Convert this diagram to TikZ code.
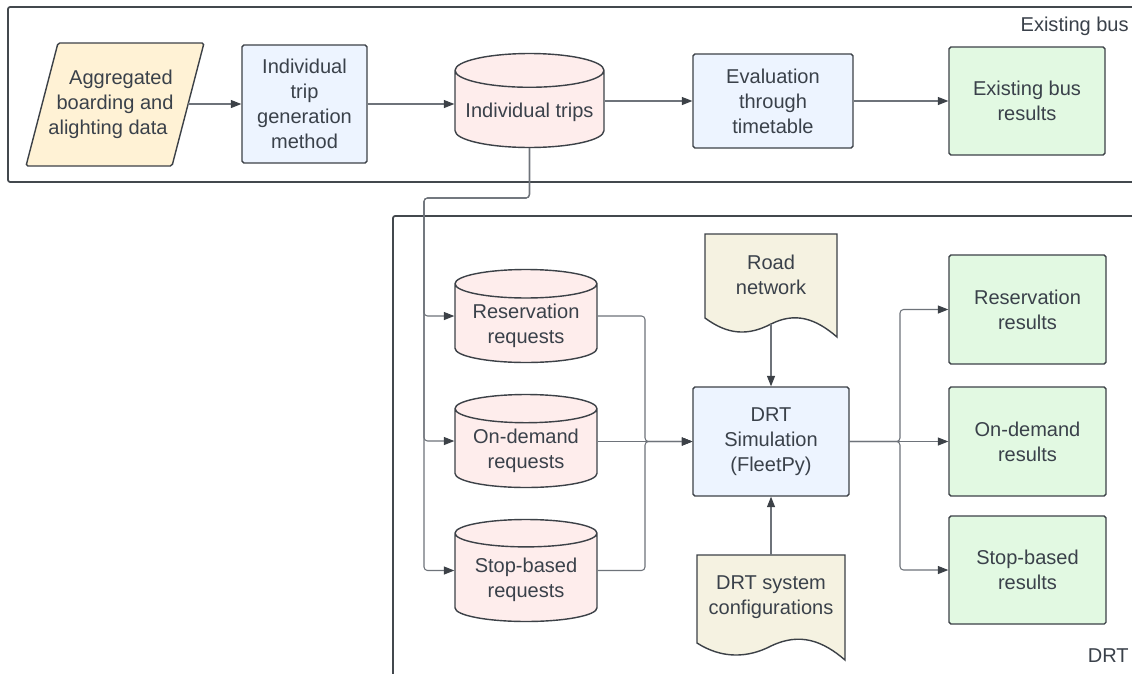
\documentclass[tikz,border=0pt]{standalone}
\usepackage{fontspec}
\setmainfont{Liberation Sans}
\usetikzlibrary{shapes.geometric,arrows.meta}

\definecolor{txt}{HTML}{3A414A}
\definecolor{brd}{HTML}{3C4147}
\definecolor{lnk}{HTML}{6E737A}
\definecolor{frm}{HTML}{43484D}
\definecolor{inputtan}{HTML}{FFF2D5}
\definecolor{procblue}{HTML}{EDF4FF}
\definecolor{drumpink}{HTML}{FEEDEC}
\definecolor{docbeige}{HTML}{F5F2E1}
\definecolor{resgreen}{HTML}{E2F9E2}

\tikzset{
  every node/.style={font=\fontsize{11.4}{14.2}\selectfont, text=txt},
  box/.style={draw=brd, line width=0.8pt, rounded corners=1pt, align=center, inner sep=2pt},
  procbox/.style={box, fill=procblue},
  resbox/.style={box, fill=resgreen},
  datadrum/.style={cylinder, shape border rotate=90, aspect=0.25, draw=brd, line width=0.8pt,
    fill=drumpink, align=center, inner sep=2pt, anchor=shape center},
  slantshape/.style={draw=brd, line width=0.8pt, fill=inputtan, rounded corners=1pt},
  doctext/.style={align=center, inner sep=0pt},
  docshape/.style={draw=brd, line width=0.8pt, fill=docbeige},
  link/.style={draw=lnk, line width=0.6pt, rounded corners=2pt,
    -{Triangle[length=6pt,width=4.6pt,color=brd]}},
  frame/.style={draw=frm, line width=1pt, rounded corners=1.2pt},
}

\begin{document}
\begin{tikzpicture}[x=0.02cm,y=-0.02cm]
    \clip (0,0) rectangle (1132,673);
    \fill[white] (0,0) rectangle (1132,673);

    % frames
    \draw[frame] (8,7) rectangle (1150,182);
    \draw[frame] (393,216) rectangle (1150,700);
    \node[anchor=east, inner sep=0pt] (buslbl) at (1129,26) {Existing bus};
    \node[anchor=east, inner sep=0pt] (drtlbl) at (1129,656) {DRT};

    % existing bus row
    \draw[slantshape] (58,43) -- (204,43) -- (172,166) -- (26,166) -- cycle;
    \node[doctext, minimum width=2.92cm, minimum height=2.46cm] (agg) at (115,104)
        {\hspace*{0.24cm}Aggregated\\boarding and\\alighting data\hspace*{0.28cm}};
    \node[procbox, minimum width=2.5cm, minimum height=2.36cm] (itg) at (304.5,104) {Individual\\trip\\generation\\method};
    \node[datadrum, minimum width=2.98cm, minimum height=1.88cm] (trips) at (529.5,100.5) {Individual trips};
    \node[procbox, minimum width=3.2cm, minimum height=1.88cm] (eval) at (773,101) {Evaluation\\through\\timetable};
    \node[resbox, minimum width=3.12cm, minimum height=2.16cm] (exres) at (1027,101) {Existing bus\\results};

    % request stores
    \node[datadrum, minimum width=2.84cm, minimum height=1.86cm] (resreq) at (526,316) {Reservation\\requests};
    \node[datadrum, minimum width=2.84cm, minimum height=1.86cm] (odreq) at (526,441) {On-demand\\requests};
    \node[datadrum, minimum width=2.84cm, minimum height=2.04cm] (sbreq) at (526,570.5) {Stop-based\\requests};

    % documents
    \draw[docshape] (705,234) -- (837,234) -- (837,337)
        .. controls (815,318) and (795,312) .. (771,324)
        .. controls (748,336) and (728,335) .. (705,318) -- cycle;
    \node[doctext, minimum width=2.64cm, minimum height=1.96cm] (road) at (771,275) {Road\\network};
    \draw[docshape] (697,555) -- (845,555) -- (845,660)
        .. controls (823,641) and (800,632) .. (771,646)
        .. controls (748,658) and (722,659) .. (697,643) -- cycle;
    \node[doctext, minimum width=2.96cm, minimum height=1.7cm] (conf) at (771,597.5) {DRT system\\configurations};

    \node[procbox, minimum width=3.12cm, minimum height=2.18cm] (sim) at (771,441.5) {DRT\\Simulation\\(FleetPy)};

    % results
    \node[resbox, minimum width=3.14cm, minimum height=2.18cm] (resres) at (1027.5,309.5) {Reservation\\results};
    \node[resbox, minimum width=3.14cm, minimum height=2.18cm] (odres) at (1027.5,441.5) {On-demand\\results};
    \node[resbox, minimum width=3.14cm, minimum height=2.16cm] (sbres) at (1027.5,570) {Stop-based\\results};

    % connectors
    \coordinate (split) at (424,198);
    \coordinate (merge) at (645,441.5);
    \coordinate (fan) at (900,441.5);

    \draw[link] (agg.east) -- (agg.east -| itg.west);
    \draw[link] (itg.east) -- (itg.east -| trips.west);
    \draw[link] (trips.east |- eval.west) -- (eval.west);
    \draw[link] (eval) -- (exres);

    \draw[link] (trips.south) |- (split) |- (resreq.west |- resreq.shape center);
    \draw[link] (trips.south) |- (split) |- (odreq.west |- odreq.shape center);
    \draw[link] (trips.south) |- (split) |- (sbreq.west |- sbreq.shape center);

    \draw[link] (resreq.east |- resreq.shape center) -| (merge) -- (sim.west);
    \draw[link] (odreq.east |- sim.west) -- (sim.west);
    \draw[link] (sbreq.east |- sbreq.shape center) -| (merge) -- (sim.west);

    \draw[link] (road.south) -- (sim.north);
    \draw[link] (conf.north) -- (sim.south);

    \draw[link] (sim.east) -- (fan) |- (resres.west);
    \draw[link] (sim.east) -- (odres.west);
    \draw[link] (sim.east) -- (fan) |- (sbres.west);
\end{tikzpicture}
\end{document}
